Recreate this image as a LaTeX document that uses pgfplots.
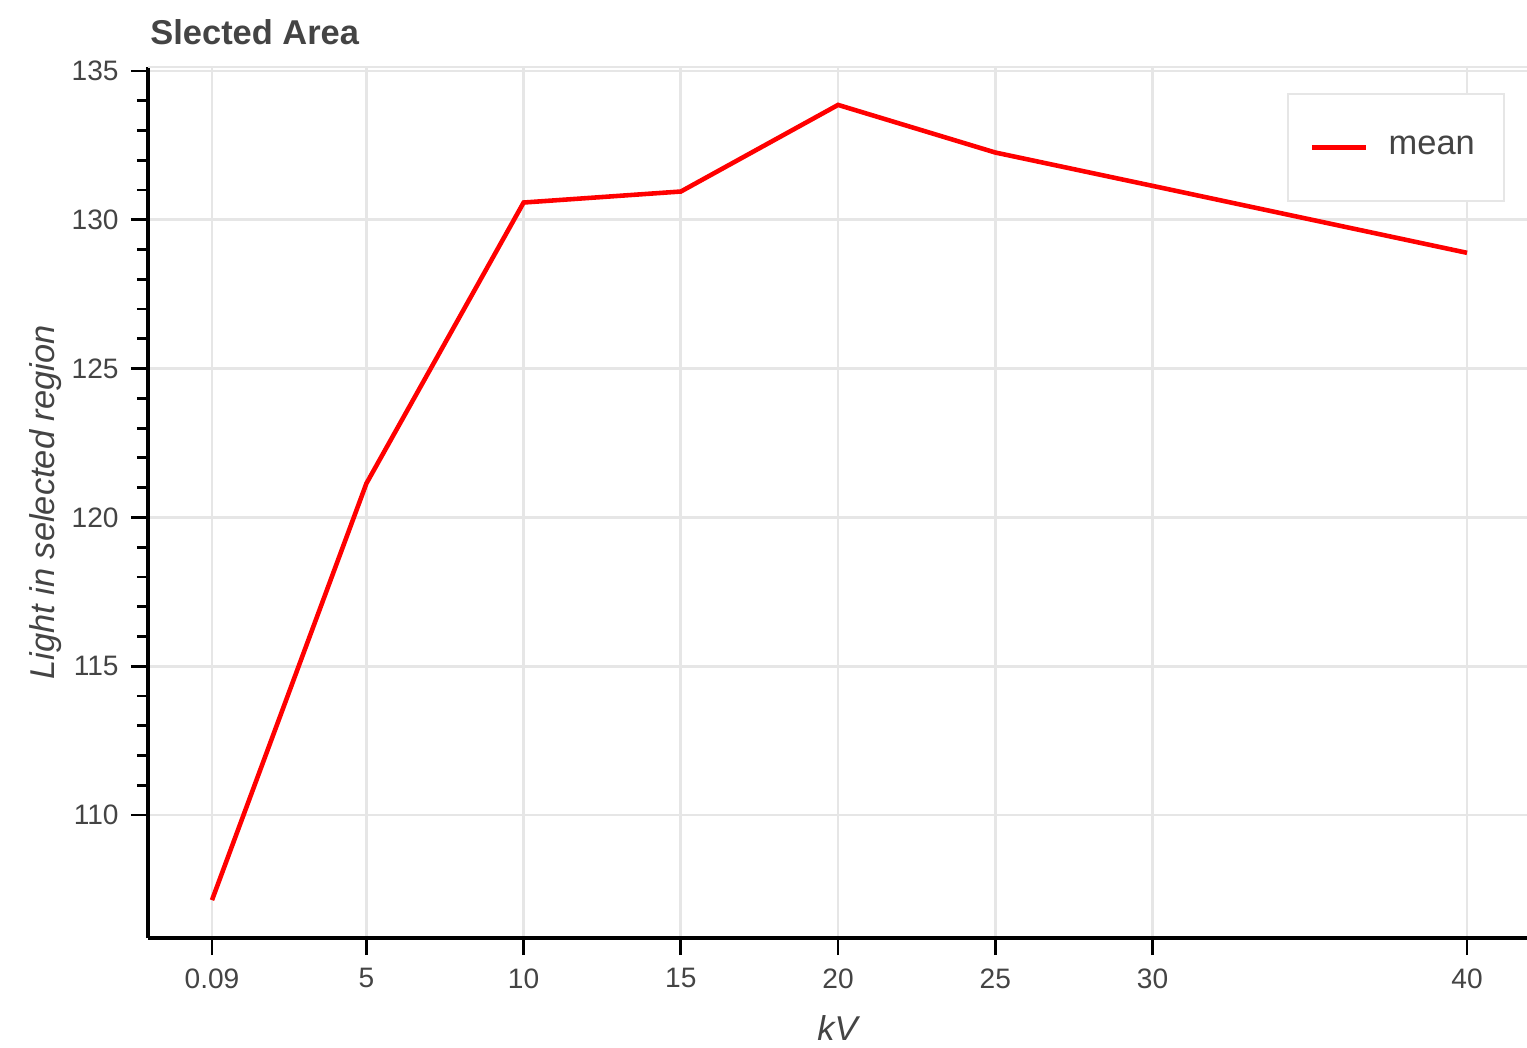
\documentclass[border=0pt]{standalone}
\usepackage{pgfplots}
\pgfplotsset{compat=1.18}
\usepackage{fontspec}
\setmainfont{Liberation Sans}
\definecolor{txt}{HTML}{444444}
\definecolor{gridc}{HTML}{E6E6E6}
\begin{document}
\begin{tikzpicture}[x=1cm,y=1cm]
\path[use as bounding box] (-1.48,-1.09) rectangle (13.79,9.38);
\begin{axis}[
  at={(0,0)}, anchor=south west,
  scale only axis, width=13.79cm, height=8.71cm,
  xmin=-1.945, xmax=41.908, ymin=105.867, ymax=135.134,
  axis x line*=bottom, axis y line*=left,
  axis line style={black, line width=0.9pt, -},
  xtick={0.09,5,10,15,20,25,30,40},
  xticklabels={0.09,5,10,15,20,25,30,40},
  ytick={110,115,120,125,130,135},
  minor y tick num=4,
  tick align=outside,
  major tick length=1.7mm, minor tick length=1.1mm,
  tick style={black, line width=0.8pt},
  grid=major, major grid style={gridc, line width=0.8pt},
  ticklabel style={font=\fontsize{8}{9}\selectfont, text=txt},
  /pgf/number format/assume math mode=true,
  xticklabel style={yshift=-0.1mm},
  yticklabel style={xshift=0mm},
  xlabel={\itshape kV}, ylabel={\itshape Light in selected region},
  label style={font=\fontsize{9.8}{11}\selectfont, text=txt},
  xlabel style={yshift=-0.3mm},
  ylabel style={yshift=-1.4mm},
  legend style={at={(0.984,0.970)}, anchor=north east, draw=gridc, line width=0.6pt,
    font=\fontsize{9.8}{11}\selectfont, text=txt, inner xsep=2.2mm, inner ysep=3.45mm,
    legend cell align=left},
  legend image code/.code={\draw[#1, line width=1.3pt] (0cm,0cm) -- (0.54cm,0cm); \path (0.67cm,0cm);},
  clip=false,
]
\addplot[red, line width=1.3pt] coordinates {
  (0.09,107.14) (5,121.14) (10,130.58) (15,130.95) (20,133.86) (25,132.26) (30,131.14) (40,128.89)
};
\addlegendentry{mean}
\draw[gridc, line width=0.8pt] (rel axis cs:0,1) -- (rel axis cs:1,1);
\node[anchor=base west, font=\bfseries\fontsize{9.8}{11}\selectfont, text=txt] at (rel axis cs:0,1) [xshift=-1mm, yshift=2.2mm] {Slected Area};
\end{axis}
\end{tikzpicture}
\end{document}
